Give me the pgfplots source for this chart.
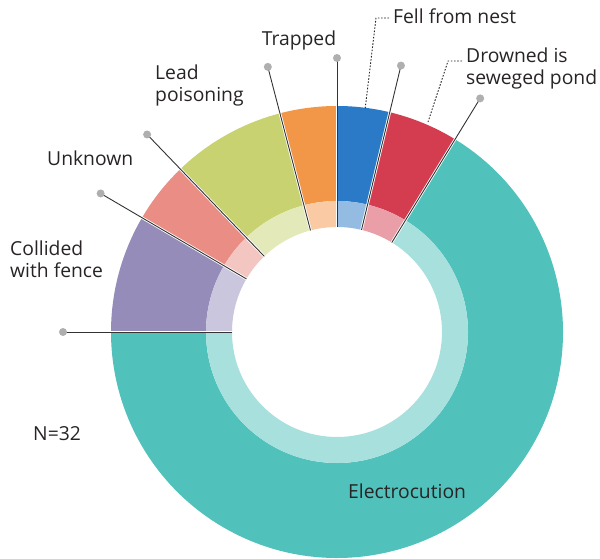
\documentclass[border=0pt]{standalone}
\usepackage{pgfplots}
\pgfplotsset{compat=1.18}
\usepackage{pgfplotstable}
\usepackage{fontspec}
\setmainfont{Open Sans}
\usetikzlibrary{calc}

\definecolor{slice0}{RGB}{150,140,186}
\definecolor{slice1}{RGB}{233,141,133}
\definecolor{slice2}{RGB}{200,210,112}
\definecolor{slice3}{RGB}{242,150,72}
\definecolor{slice4}{RGB}{42,122,200}
\definecolor{slice5}{RGB}{212,60,80}
\definecolor{slice6}{RGB}{80,193,187}
\definecolor{txt}{RGB}{40,36,37}
\definecolor{dotc}{RGB}{175,175,175}

% Causes of death, N = 32 (clockwise from 9 o'clock)
\pgfplotstableread{
idx count
0 2.7
1 1.4
2 2.6
3 1.3
4 1.2
5 1.6
6 21.2
}\deaths

\def\total{32}
\def\cum{0}
\pgfplotsforeachungrouped \i in {0,...,6}{%
  \pgfplotstablegetelem{\i}{count}\of\deaths
  \let\v=\pgfplotsretval
  \pgfmathsetmacro\sa{180-\cum*360/\total}%
  \pgfmathsetmacro\cum{\cum+\v}%
  \pgfmathsetmacro\ea{180-\cum*360/\total}%
  \expandafter\xdef\csname sa\i\endcsname{\sa}%
  \expandafter\xdef\csname ea\i\endcsname{\ea}%
}

\begin{document}
\begin{tikzpicture}
\begin{axis}[
  x=1pt, y=1pt,
  xmin=0, xmax=600, ymin=0, ymax=559,
  enlargelimits=false,
  hide axis, clip=false,
  font=\fontsize{19.3}{22}\selectfont,
]
\coordinate (LL) at (axis cs:0,0);
\coordinate (UR) at (axis cs:600,559);
\coordinate (C) at (axis cs:337,227);
\pgfplotsinvokeforeach{0,...,6}{
  \fill[slice#1] ($(C)+(\csname sa#1\endcsname:226pt)$)
     arc[start angle=\csname sa#1\endcsname, end angle=\csname ea#1\endcsname, radius=226pt]
     -- ($(C)+(\csname ea#1\endcsname:131pt)$)
     arc[start angle=\csname ea#1\endcsname, end angle=\csname sa#1\endcsname, radius=131pt] -- cycle;
  \fill[slice#1!50!white] ($(C)+(\csname sa#1\endcsname:131pt)$)
     arc[start angle=\csname sa#1\endcsname, end angle=\csname ea#1\endcsname, radius=131pt]
     -- ($(C)+(\csname ea#1\endcsname:105pt)$)
     arc[start angle=\csname ea#1\endcsname, end angle=\csname sa#1\endcsname, radius=105pt] -- cycle;
}
\pgfplotsinvokeforeach{0,...,6}{
  \draw[white, line width=2.6pt] ($(C)+(\csname sa#1\endcsname:105pt)$) -- ($(C)+(\csname sa#1\endcsname:272pt)$);
  \draw[black!80, line width=0.9pt] ($(C)+(\csname sa#1\endcsname:105pt)$) -- ($(C)+(\csname sa#1\endcsname:272pt)$);
  \fill[dotc] ($(C)+(\csname sa#1\endcsname:274pt)$) circle[radius=4pt];
}
% dotted leaders
\draw[black!85, dash pattern=on 1.6pt off 1.6pt, line width=0.9pt] (axis cs:389,541) -- (axis cs:376,541) -- (axis cs:365,449);
\draw[black!85, dash pattern=on 1.6pt off 1.6pt, line width=0.9pt] (axis cs:462,498) -- (axis cs:448,498) -- (axis cs:428,437);
% labels
\begin{scope}[every node/.style={text=txt, inner sep=0pt, align=left}]
\node[anchor=west] at (axis cs:393,543) {Fell from nest};
\node at (axis cs:299,519) {Trapped};
\node[anchor=west] at (axis cs:155,474) {Lead\\poisoning};
\node[anchor=west] at (axis cs:466,491) {Drowned is\\seweged pond};
\node[anchor=west] at (axis cs:47,401) {Unknown};
\node[anchor=west] at (axis cs:10,300) {Collided\\with fence};
\node[anchor=west] at (axis cs:33,125) {N=32};
\node[anchor=west] at (axis cs:348,68) {Electrocution};
\end{scope}
\end{axis}
\pgfresetboundingbox
\useasboundingbox (LL) rectangle (UR);
\end{tikzpicture}
\end{document}
